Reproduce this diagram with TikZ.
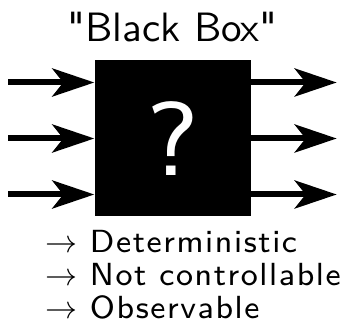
\RequirePackage{fix-cm}
\documentclass[tikz,border=0pt]{standalone}
\usepackage{fontspec}
\newfontfamily\bbfont{lmsans8-regular.otf}[Ligatures=TeXOff]
\newfontfamily\bbtitlefont{lmsans10-regular.otf}[Ligatures=TeXOff]
\usetikzlibrary{arrows.meta, positioning}

\begin{document}
\begin{tikzpicture}[
    >={Stealth[length=42pt, width=28pt, inset=11pt]},
    blackbox/.style={fill=black, minimum size=156pt, inner sep=0pt,
                     text=white, font=\bbfont\fontsize{105}{105}\selectfont},
    title/.style   ={font=\bbtitlefont\fontsize{41}{41}\selectfont, inner sep=0pt},
    prop/.style    ={font=\bbfont\fontsize{32}{32}\selectfont\addfontfeature{LetterSpace=5},
                     inner sep=0pt, anchor=base west},
    signal/.style  ={->, line width=6pt},
]
\useasboundingbox (0,0) rectangle (347pt,328pt);
\node[blackbox] (box) at (172.5pt,189.5pt) {?};
\node[title, anchor=base] (title) at ([yshift=19pt]box.north) {"Black Box"};
% inputs and outputs
\foreach \i/\dy in {1/56,2/0,3/-56} {
  \coordinate (in\i)  at ([xshift=-86pt,yshift=\dy pt]box.west);
  \coordinate (out\i) at ([xshift=86pt,yshift=\dy pt]box.east);
  \draw[signal] (in\i) -- (in\i -| box.west);
  \draw[signal] (box.east |- out\i) -- (out\i);
}
% properties
\node[prop] (det) at ([xshift=-49.5pt,yshift=-35.5pt]box.south west) {$\rightarrow$ Deterministic};
\node[prop] (ctl) at ([yshift=-33pt]det.base west) {$\rightarrow$ Not controllable};
\node[prop] (obs) at ([yshift=-33pt]ctl.base west) {$\rightarrow$ Observable};
\end{tikzpicture}
\end{document}
